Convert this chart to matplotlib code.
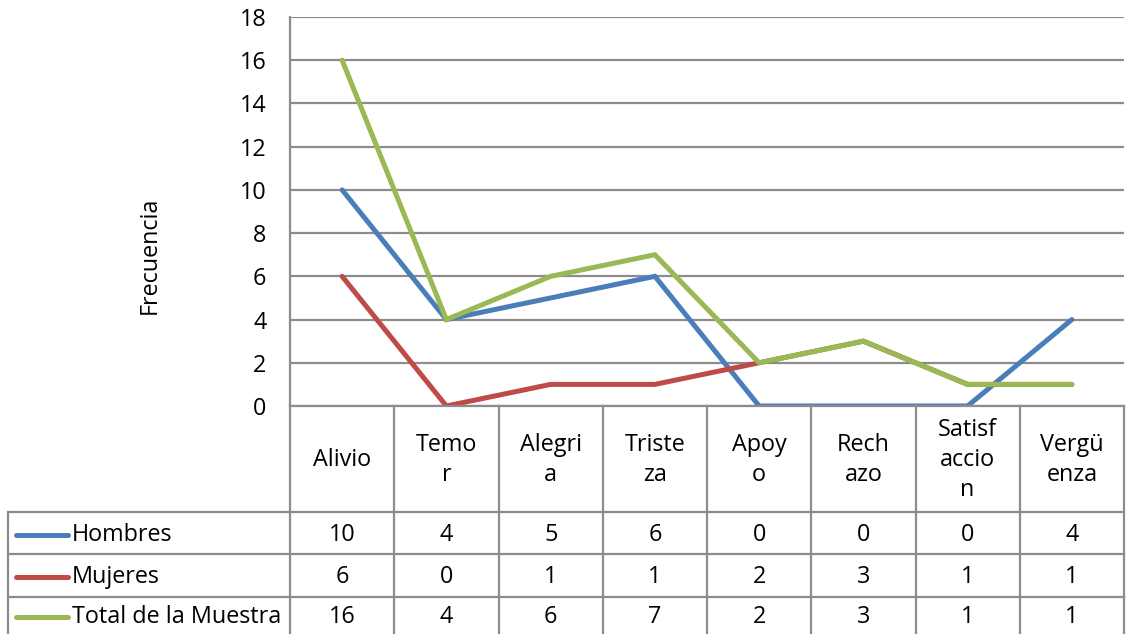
import matplotlib
matplotlib.use("Agg")
import matplotlib.pyplot as plt

plt.rcParams["font.family"] = ["Open Sans", "DejaVu Sans"]

# ---- data ----
categories = ["Alivio", "Temor", "Alegria", "Tristeza", "Apoyo", "Rechazo",
              "Satisfaccion", "Vergüenza"]
header_labels = ["Alivio", "Temo\nr", "Alegri\na", "Triste\nza", "Apoy\no",
                 "Rech\nazo", "Satisf\naccio\nn", "Vergü\nenza"]
hombres = [10, 4, 5, 6, 0, 0, 0, 4]
mujeres = [6, 0, 1, 1, 2, 3, 1, 1]
total = [16, 4, 6, 7, 2, 3, 1, 1]
series_names = ["Hombres", "Mujeres", "Total de la Muestra"]
yticks = [0, 2, 4, 6, 8, 10, 12, 14, 16, 18]

COLORS = ["#4A7EBB", "#BE4B48", "#98B954"]
GRID = "#8C8C8C"
FS = 16.8
W, H = 1126, 634

fig = plt.figure(figsize=(W / 100, H / 100), dpi=100)

# plot area in pixels
x0, x1, ytop, ybot = 290, 1124, 17, 406
ax = fig.add_axes([x0 / W, 1 - ybot / H, (x1 - x0) / W, (ybot - ytop) / H])
n = len(categories)
xs = range(n)
for vals, c in zip([hombres, mujeres, total], COLORS):
    ax.plot(xs, vals, color=c, lw=3.6, solid_capstyle="round",
            solid_joinstyle="miter", zorder=3)
ax.set_xlim(-0.5, n - 0.5)
ax.set_ylim(0, 18)
ax.set_yticks(yticks)
ax.set_yticklabels([str(v) for v in yticks], fontsize=FS)
ax.set_xticks([])
ax.tick_params(axis="y", length=0, pad=17)
ax.grid(True, axis="y", color=GRID, lw=1.6)
for s in ["top", "right", "bottom"]:
    ax.spines[s].set_visible(False)
ax.spines["left"].set_color(GRID)
ax.spines["left"].set_linewidth(1.6)

fig.text(150 / W, 1 - 255 / H, "Frecuencia", rotation=90, fontsize=FS,
         ha="center", va="center")

# ---- data table (pixel-coordinate overlay) ----
tab = fig.add_axes([0, 0, 1, 1])
tab.set_xlim(0, W)
tab.set_ylim(H, 0)
tab.axis("off")
cw = (x1 - x0) / n
lkw = dict(color=GRID, lw=1.6)
row_lines = [512, 554, 597, H]
left = 8
for k in range(n + 1):
    tab.plot([x0 + k * cw] * 2, [ybot, H], **lkw)
tab.plot([x0, x1], [ybot, ybot], **lkw)
for yl in row_lines[:-1]:
    tab.plot([left, x1], [yl, yl], **lkw)
tab.plot([left, left], [row_lines[0], H], **lkw)

for i, lab in enumerate(header_labels):
    tab.text(x0 + (i + 0.5) * cw, 460, lab, ha="center", va="center",
             fontsize=FS, linespacing=1.35)

row_centers = [535, 577, 617]
for r, (name, vals, c) in enumerate(zip(series_names, [hombres, mujeres, total], COLORS)):
    yc = row_centers[r]
    tab.plot([16, 68], [yc, yc], color=c, lw=3.6, solid_capstyle="round")
    tab.text(72, yc, name, ha="left", va="center", fontsize=FS)
    for i, v in enumerate(vals):
        tab.text(x0 + (i + 0.5) * cw, yc, str(v), ha="center", va="center",
                 fontsize=FS)

fig.savefig("out.png", dpi=100)
